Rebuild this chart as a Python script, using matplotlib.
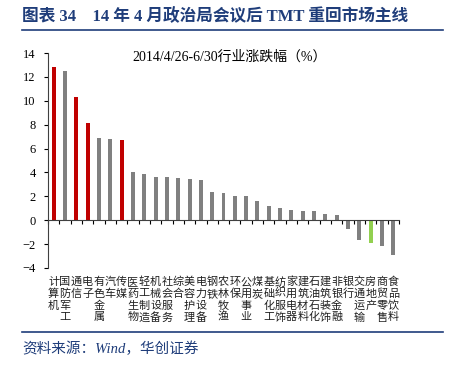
import matplotlib
matplotlib.use("Agg")
import matplotlib.pyplot as plt
import matplotlib.transforms as mtransforms
import numpy as np

plt.rcParams['font.family'] = ['Liberation Serif', 'Noto Sans CJK SC']

categories = ['计算机', '国防军工', '通信', '电子', '有色金属', '汽车', '传媒', '医药生物',
              '轻工制造', '机械设备', '社会服务', '综合', '美容护理', '电力设备', '钢铁',
              '农林牧渔', '环保', '公用事业', '煤炭', '基础化工', '纺织服饰', '家用电器',
              '建筑材料', '石油石化', '建筑装饰', '非银金融', '银行', '交通运输', '房地产',
              '商贸零售', '食品饮料']
values = [12.85, 12.5, 10.35, 8.15, 6.85, 6.8, 6.75, 4.0, 3.9, 3.65, 3.6, 3.55, 3.45, 3.35,
          2.4, 2.27, 2.04, 2.02, 1.62, 1.15, 1.0, 0.84, 0.76, 0.76, 0.56, 0.42,
          -0.76, -1.62, -1.9, -2.13, -2.88]
tmt = ['计算机', '通信', '电子', '传媒']
highlight = ['房地产']

colors = []
for c in categories:
    if c in tmt:
        colors.append('#C00000')
    elif c in highlight:
        colors.append('#92D050')
    else:
        colors.append('#808080')

W, H = 453, 368
fig = plt.figure(figsize=(W / 100, H / 100), dpi=100)
ax = fig.add_axes([48 / W, 1 - 268 / H, (399 - 48) / W, (268 - 53) / H])

x = np.arange(len(categories))
ax.bar(x, values, width=0.35, color=colors, zorder=2)

ax.set_xlim(-0.5, len(categories) - 0.5)
ax.set_ylim(-4, 14)
ax.set_yticks(np.arange(-4, 15, 2))
ax.tick_params(axis='y', direction='out', length=3, width=0.8, labelsize=9, pad=6)

ax.spines['top'].set_visible(False)
ax.spines['right'].set_visible(False)
ax.spines['bottom'].set_position(('data', 0))
ax.spines['left'].set_color('#404040')
ax.spines['bottom'].set_color('#404040')
ax.set_xticks(np.arange(-0.5, len(categories), 1))
ax.set_xticklabels([])
ax.tick_params(axis='x', direction='out', length=3, width=0.8)

ax.text(0.517, 0.98, '2014/4/26-6/30行业涨跌幅（%）', transform=ax.transAxes,
        ha='center', va='center', fontsize=10)

# vertical category labels, one character per row
trans = mtransforms.blended_transform_factory(ax.transData, fig.transFigure)
for i, c in enumerate(categories):
    for j, ch in enumerate(c):
        ax.text(i, 1 - (282 + j * 11.8) / H, ch, transform=trans, ha='center',
                va='center', fontsize=8, color='#202020', clip_on=False)

blue = '#1F3D7A'
fig.text(22 / W, 1 - 17 / H, '图表 34    14 年 4 月政治局会议后 TMT 重回市场主线',
         ha='left', va='center', fontsize=12, fontweight='bold', color=blue)
fig.add_artist(plt.Line2D([22 / W, 443 / W], [1 - 30 / H, 1 - 30 / H], color=blue, lw=1.2))
fig.add_artist(plt.Line2D([22 / W, 443 / W], [1 - 332 / H, 1 - 332 / H], color=blue, lw=1.2))
fig.text(22 / W, 1 - 349 / H, '资料来源：Wind，华创证券', ha='left', va='center',
         fontsize=10.5, style='italic', color=blue)

fig.savefig('out.png', dpi=100)
